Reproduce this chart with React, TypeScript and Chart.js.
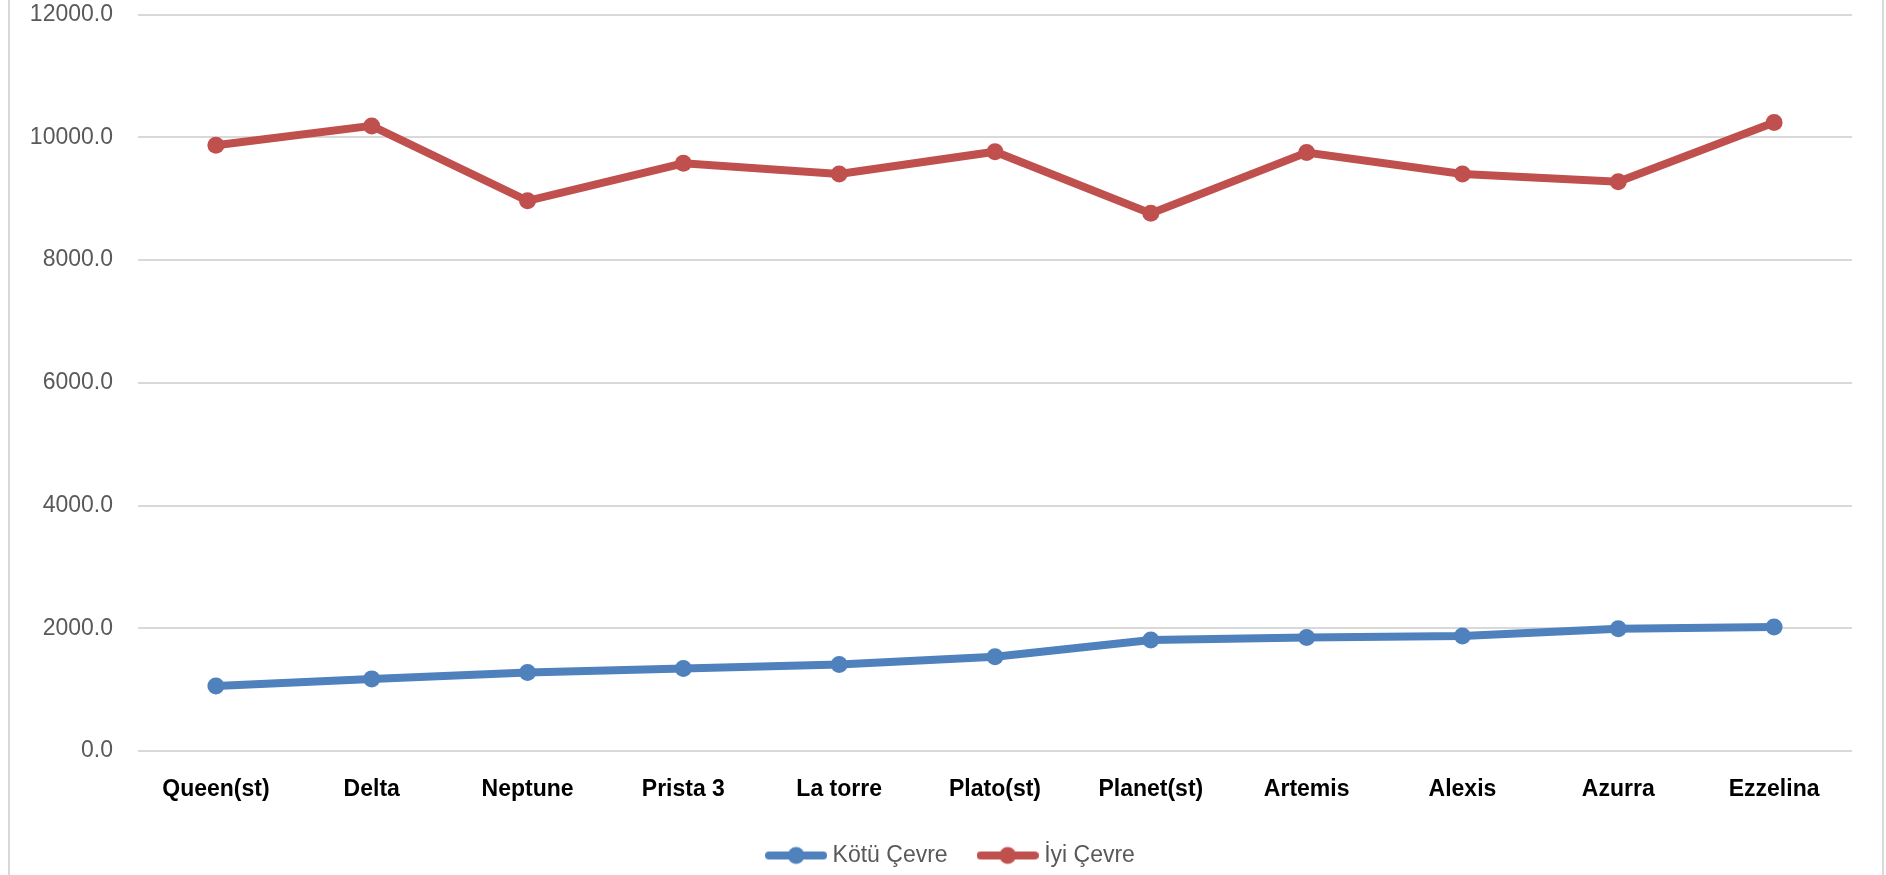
import React, { useEffect, useRef } from "react";
import { Chart, registerables } from "chart.js";

Chart.register(...registerables);

const categories = [
  "Queen(st)",
  "Delta",
  "Neptune",
  "Prista 3",
  "La torre",
  "Plato(st)",
  "Planet(st)",
  "Artemis",
  "Alexis",
  "Azurra",
  "Ezzelina",
];
const seriesNames = ["Kötü Çevre", "İyi Çevre"];
const kotuCevre = [1060, 1175, 1280, 1345, 1410, 1535, 1810, 1850, 1875, 1990, 2020];
const iyiCevre = [9870, 10185, 8965, 9575, 9400, 9765, 8760, 9750, 9400, 9275, 10240];
const yMin = 0;
const yMax = 12000;
const yStep = 2000;

const BLUE = "#4F81BD";
const RED = "#C0504D";
const FONT = "'Liberation Sans', Arial, sans-serif";

function makeLegendIcon(color: string): HTMLCanvasElement {
  const c = document.createElement("canvas");
  c.width = 62;
  c.height = 20;
  const ctx = c.getContext("2d")!;
  ctx.strokeStyle = color;
  ctx.lineWidth = 8;
  ctx.lineCap = "round";
  ctx.beginPath();
  ctx.moveTo(4, 10);
  ctx.lineTo(58, 10);
  ctx.stroke();
  ctx.fillStyle = color;
  ctx.beginPath();
  ctx.arc(31, 10, 8.5, 0, Math.PI * 2);
  ctx.fill();
  return c;
}

export default function App() {
  const ref = useRef<HTMLCanvasElement | null>(null);

  useEffect(() => {
    if (!ref.current) return;
    const icons = [makeLegendIcon(BLUE), makeLegendIcon(RED)];
    const chart = new Chart(ref.current, {
      type: "line",
      data: {
        labels: categories,
        datasets: [
          {
            label: seriesNames[0],
            data: kotuCevre,
            borderColor: BLUE,
            backgroundColor: BLUE,
            borderWidth: 8,
            pointRadius: 8.5,
            pointBorderWidth: 0,
            pointBackgroundColor: BLUE,
            tension: 0,
            yAxisID: "y",
          },
          {
            label: seriesNames[1],
            data: iyiCevre,
            borderColor: RED,
            backgroundColor: RED,
            borderWidth: 8,
            pointRadius: 8.5,
            pointBorderWidth: 0,
            pointBackgroundColor: RED,
            tension: 0,
            yAxisID: "y",
          },
        ],
      },
      options: {
        responsive: false,
        animation: false,
        layout: { padding: { top: 14.5, right: 0, left: 0, bottom: -2 } },
        plugins: {
          tooltip: { enabled: false },
          legend: {
            position: "bottom",
            labels: {
              usePointStyle: true,
              pointStyleWidth: 50,
              padding: 35,
              color: "#595959",
              font: { family: FONT, size: 23 },
              generateLabels: (ch: any) => {
                const items = Chart.defaults.plugins.legend.labels.generateLabels(ch);
                return items.map((it: any, i: number) => ({
                  ...it,
                  pointStyle: icons[i],
                  fontColor: "#595959",
                }));
              },
            },
          },
        },
        scales: {
          x: {
            offset: true,
            grid: { display: false, drawTicks: false },
            border: { display: false },
            ticks: {
              color: "#000000",
              padding: 25,
              maxRotation: 0,
              autoSkip: false,
              font: { family: FONT, size: 23, weight: "bold" },
            },
            afterFit: (s: any) => {
              s.height = 58;
              s.paddingLeft = 0;
              s.paddingRight = 0;
            },
          },
          y: {
            position: "left",
            min: yMin,
            max: yMax,
            grid: { color: "#d9d9d9", lineWidth: 2, drawTicks: false },
            border: { display: false },
            ticks: {
              stepSize: yStep,
              color: "#595959",
              padding: 25,
              font: { family: FONT, size: 23 },
              callback: (v: any) => Number(v).toFixed(1),
            },
            afterFit: (s: any) => {
              s.width = 138;
              s.paddingTop = 0;
              s.paddingBottom = 0;
            },
          },
          spacer: {
            type: "linear",
            position: "right",
            display: true,
            grid: { display: false, drawTicks: false },
            border: { display: false },
            ticks: { display: false },
            afterFit: (s: any) => {
              s.width = 54;
              s.paddingTop = 0;
              s.paddingBottom = 0;
            },
          },
        },
      },
    });
    return () => chart.destroy();
  }, []);

  return (
    <div
      style={{
        position: "fixed",
        left: 0,
        top: 0,
        width: 1886,
        height: 875,
        overflow: "hidden",
        background: "#ffffff",
      }}
    >
      <canvas ref={ref} width={1906} height={875} style={{ display: "block" }} />
      <div
        style={{
          position: "absolute",
          left: 8,
          top: 0,
          width: 2,
          height: 875,
          background: "#d9d9d9",
        }}
      />
      <div
        style={{
          position: "absolute",
          left: 1882,
          top: 0,
          width: 2,
          height: 875,
          background: "#d9d9d9",
        }}
      />
    </div>
  );
}
